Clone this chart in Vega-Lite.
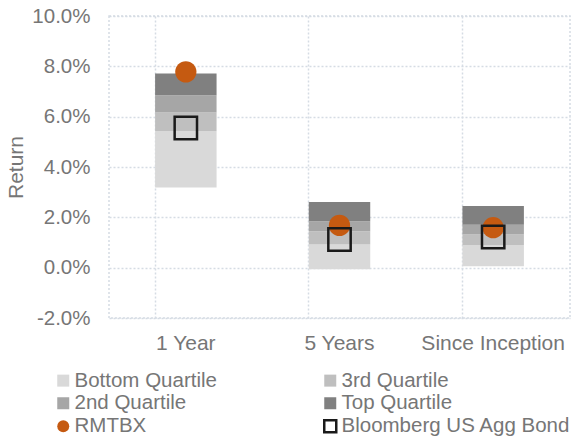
{
  "$schema": "https://vega.github.io/schema/vega-lite/v6.json",
  "autosize": "none",
  "padding": {"left": 109, "top": 16, "right": 10, "bottom": 121},
  "width": 461,
  "height": 302,
  "background": "white",
  "config": {
    "font": "Liberation Sans",
    "view": {"stroke": "#d5dce4", "strokeDash": [2, 2], "strokeWidth": 1.5},
    "axis": {"labelFont": "Liberation Sans", "titleFont": "Liberation Sans", "labelColor": "#767676", "titleColor": "#767676", "labelFontSize": 21, "titleFontSize": 21, "titleFontWeight": "normal", "gridColor": "#d5dce4", "gridDash": [2, 2], "gridWidth": 1.5, "ticks": false, "domain": false},
    "legend": {"labelFont": "Liberation Sans", "labelFontSize": 20.5, "labelColor": "#767676"}
  },
  "datasets": {
    "bars": [
      {"period": "1 Year", "series": "Bottom Quartile", "lo": 0.0319, "hi": 0.0542},
      {"period": "1 Year", "series": "3rd Quartile", "lo": 0.0542, "hi": 0.0617},
      {"period": "1 Year", "series": "2nd Quartile", "lo": 0.0617, "hi": 0.0685},
      {"period": "1 Year", "series": "Top Quartile", "lo": 0.0685, "hi": 0.0772},
      {"period": "5 Years", "series": "Bottom Quartile", "lo": -0.0006, "hi": 0.0092},
      {"period": "5 Years", "series": "3rd Quartile", "lo": 0.0092, "hi": 0.0145},
      {"period": "5 Years", "series": "2nd Quartile", "lo": 0.0145, "hi": 0.0184},
      {"period": "5 Years", "series": "Top Quartile", "lo": 0.0184, "hi": 0.0261},
      {"period": "Since Inception", "series": "Bottom Quartile", "lo": 0.0006, "hi": 0.0089},
      {"period": "Since Inception", "series": "3rd Quartile", "lo": 0.0089, "hi": 0.0132},
      {"period": "Since Inception", "series": "2nd Quartile", "lo": 0.0132, "hi": 0.0171},
      {"period": "Since Inception", "series": "Top Quartile", "lo": 0.0171, "hi": 0.0245}
    ],
    "rmtbx": [
      {"period": "1 Year", "series": "RMTBX", "value": 0.0778},
      {"period": "5 Years", "series": "RMTBX", "value": 0.0168},
      {"period": "Since Inception", "series": "RMTBX", "value": 0.0159}
    ],
    "agg": [
      {"period": "1 Year", "series": "Bloomberg US Agg Bond", "value": 0.0555},
      {"period": "5 Years", "series": "Bloomberg US Agg Bond", "value": 0.0112},
      {"period": "Since Inception", "series": "Bloomberg US Agg Bond", "value": 0.0122}
    ]
  },
  "encoding": {
    "x": {
      "field": "period", "type": "nominal",
      "sort": ["1 Year", "5 Years", "Since Inception"],
      "scale": {"paddingInner": 0.6, "paddingOuter": 0.3},
      "axis": {"title": null, "labelAngle": 0, "labelPadding": 14, "grid": true, "bandPosition": 0}
    }
  },
  "layer": [
    {
      "data": {"name": "bars"},
      "mark": {"type": "bar"},
      "encoding": {
        "y": {
          "field": "lo", "type": "quantitative",
          "scale": {"domain": [-0.02, 0.1], "nice": false},
          "axis": {"title": "Return", "format": ".1%", "labelExpr": "replace(datum.label, '\u2212', '-')", "values": [-0.02, 0, 0.02, 0.04, 0.06, 0.08, 0.1], "labelFontSize": 20.5, "labelPadding": 19, "titlePadding": 5, "grid": true}
        },
        "y2": {"field": "hi"},
        "fill": {
          "field": "series", "type": "nominal",
          "scale": {
            "domain": ["Bottom Quartile", "2nd Quartile", "RMTBX", "3rd Quartile", "Top Quartile", "Bloomberg US Agg Bond"],
            "range": ["#D9D9D9", "#A6A6A6", "#C55A11", "#BFBFBF", "#808080", "transparent"]
          },
          "legend": {"title": null, "orient": "none", "legendX": -56, "legendY": 354, "columns": 2, "columnPadding": 102, "rowPadding": 0, "symbolSize": 144, "labelOffset": 1, "labelLimit": 400, "symbolStrokeWidth": 2.5, "symbolOpacity": 1}
        }
      }
    },
    {
      "data": {"name": "rmtbx"},
      "mark": {"type": "point", "filled": true, "opacity": 1, "size": 452, "strokeWidth": 2.5},
      "encoding": {
        "y": {"field": "value", "type": "quantitative"},
        "fill": {"field": "series", "type": "nominal"},
        "stroke": {
          "field": "series", "type": "nominal",
          "scale": {
            "domain": ["Bottom Quartile", "2nd Quartile", "RMTBX", "3rd Quartile", "Top Quartile", "Bloomberg US Agg Bond"],
            "range": ["transparent", "transparent", "transparent", "transparent", "transparent", "#1a1a1a"]
          }
        },
        "shape": {
          "field": "series", "type": "nominal",
          "scale": {
            "domain": ["Bottom Quartile", "2nd Quartile", "RMTBX", "3rd Quartile", "Top Quartile", "Bloomberg US Agg Bond"],
            "range": ["square", "square", "circle", "square", "square", "square"]
          }
        }
      }
    },
    {
      "data": {"name": "agg"},
      "mark": {"type": "point", "filled": true, "opacity": 1, "size": 500, "strokeWidth": 2.5},
      "encoding": {
        "y": {"field": "value", "type": "quantitative"},
        "fill": {"field": "series", "type": "nominal"},
        "stroke": {"field": "series", "type": "nominal"},
        "shape": {"field": "series", "type": "nominal"}
      }
    }
  ]
}
